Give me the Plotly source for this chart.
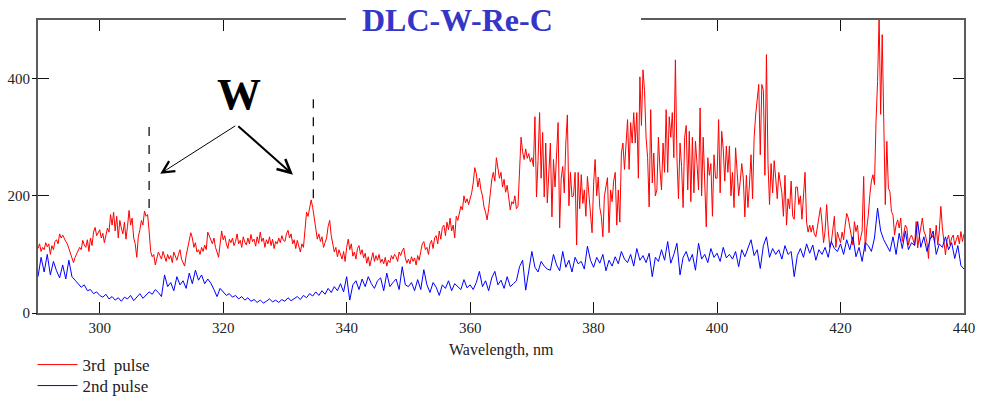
import numpy as np
import plotly.graph_objects as go

# Emission spectra of the DLC-W-Re-C coating, intensity (a.u.) vs wavelength (nm)
WL_START = 290.0
RED_STEP = 0.25   # nm between samples of the 3rd-pulse spectrum
BLUE_STEP = 0.5   # nm between samples of the 2nd-pulse spectrum

# 3rd pulse, one row per 10 nm
red_290 = [110, 118, 105, 112, 108, 120, 113, 118, 100, 115, 108, 122, 125, 118, 135, 128, 133, 126, 122, 118,
           110, 102, 92, 86, 95, 100, 105, 112, 108, 124, 116, 112, 125, 105, 128, 115, 138, 146, 132, 138]
red_300 = [142, 128, 136, 120, 131, 145, 138, 168, 150, 172, 140, 165, 128, 158, 145, 135, 155, 126, 148, 175,
           150, 162, 128, 118, 95, 130, 142, 158, 150, 174, 165, 168, 140, 105, 96, 100, 82, 95, 104, 98]
red_310 = [92, 105, 96, 88, 100, 92, 98, 86, 104, 95, 90, 100, 108, 92, 84, 80, 98, 110, 126, 137,
           128, 112, 120, 104, 108, 100, 112, 105, 116, 108, 138, 130, 124, 118, 128, 112, 104, 95, 118, 140]
red_320 = [125, 132, 118, 110, 126, 120, 128, 115, 122, 135, 118, 124, 112, 130, 121, 116, 128, 118, 134, 122,
           126, 114, 130, 119, 138, 122, 128, 112, 125, 118, 130, 115, 126, 110, 122, 118, 128, 120, 132, 124]
red_330 = [122, 135, 141, 128, 135, 118, 125, 110, 124, 116, 104, 118, 112, 142, 172, 165, 182, 193, 180, 160,
           142, 126, 135, 122, 130, 112, 120, 128, 148, 158, 132, 118, 104, 112, 96, 108, 100, 92, 105, 88]
red_340 = [112, 126, 108, 118, 97, 104, 92, 110, 115, 100, 108, 94, 102, 85, 96, 80, 92, 103, 88, 98,
           90, 100, 86, 92, 84, 95, 80, 90, 86, 98, 92, 100, 96, 88, 104, 98, 106, 111, 94, 85]
red_350 = [92, 84, 96, 88, 94, 82, 98, 90, 105, 118, 122, 108, 112, 100, 118, 124, 110, 128, 132, 118,
           140, 126, 146, 150, 132, 155, 142, 162, 140, 150, 128, 165, 158, 172, 182, 176, 200, 188, 195, 185]
red_360 = [193, 205, 222, 248, 238, 215, 230, 210, 200, 181, 172, 159, 178, 210, 227, 240, 225, 265, 250, 230,
           240, 215, 228, 206, 218, 195, 176, 190, 186, 200, 178, 182, 256, 300, 275, 262, 280, 264, 272, 258]
red_370 = [265, 250, 335, 198, 260, 342, 230, 308, 198, 290, 188, 250, 290, 164, 262, 215, 270, 325, 145, 230,
           250, 205, 290, 338, 183, 240, 198, 200, 240, 116, 240, 178, 236, 187, 210, 165, 233, 200, 175, 137]
red_380 = [220, 262, 200, 232, 180, 165, 130, 200, 215, 231, 137, 210, 190, 225, 240, 150, 210, 155, 273, 290,
           245, 285, 330, 245, 325, 290, 342, 290, 342, 230, 403, 320, 415, 380, 300, 265, 181, 347, 222, 273]
red_390 = [200, 210, 300, 245, 210, 290, 240, 347, 240, 335, 300, 342, 265, 432, 265, 195, 290, 250, 180, 300,
           320, 210, 310, 190, 300, 205, 293, 255, 210, 350, 200, 300, 235, 147, 265, 235, 255, 165, 270, 230]
red_400 = [230, 330, 205, 310, 280, 225, 285, 240, 285, 200, 240, 180, 282, 230, 200, 225, 255, 230, 164, 235,
           180, 220, 270, 195, 299, 338, 360, 390, 270, 390, 380, 235, 441, 255, 185, 255, 205, 260, 230, 195]
red_410 = [240, 220, 205, 165, 235, 150, 195, 178, 225, 165, 160, 215, 215, 185, 200, 160, 200, 240, 155, 138,
           150, 138, 150, 135, 130, 145, 160, 180, 155, 120, 140, 185, 143, 112, 120, 145, 165, 112, 138, 128]
red_420 = [120, 138, 125, 150, 170, 162, 145, 128, 116, 156, 139, 150, 116, 128, 140, 233, 105, 145, 167, 202,
           225, 236, 219, 327, 395, 505, 339, 475, 356, 185, 293, 213, 207, 173, 167, 133, 150, 159, 145, 162]
red_430 = [122, 135, 150, 145, 116, 128, 133, 125, 116, 156, 111, 130, 150, 162, 140, 133, 120, 93, 145, 128,
           133, 120, 150, 116, 140, 182, 145, 120, 99, 125, 133, 116, 128, 133, 116, 125, 133, 118, 139, 122, 135]

# 2nd pulse, one row per 10 nm
blue_290 = [62, 95, 70, 100, 65, 88, 72, 60, 82, 58, 90, 62, 56, 50, 44, 48, 38, 40, 33, 36]
blue_300 = [30, 27, 32, 24, 28, 22, 26, 20, 27, 24, 30, 21, 27, 33, 25, 30, 36, 32, 40, 35]
blue_310 = [28, 65, 45, 52, 38, 62, 48, 55, 42, 68, 50, 73, 56, 65, 50, 58, 51, 40, 28, 42]
blue_320 = [36, 30, 33, 27, 30, 24, 28, 22, 26, 20, 23, 18, 22, 17, 20, 24, 19, 22, 18, 23]
blue_330 = [20, 26, 21, 24, 28, 23, 30, 26, 33, 29, 36, 30, 38, 32, 42, 35, 45, 38, 50, 36]
blue_340 = [62, 22, 48, 55, 40, 58, 45, 62, 50, 42, 55, 60, 38, 68, 45, 52, 58, 40, 79, 48]
blue_350 = [45, 52, 38, 57, 40, 74, 48, 35, 52, 44, 30, 48, 42, 55, 38, 50, 45, 40, 57, 43]
blue_360 = [48, 40, 52, 71, 45, 55, 38, 60, 71, 48, 56, 42, 62, 45, 50, 55, 79, 90, 39, 70]
blue_370 = [105, 78, 70, 88, 80, 75, 73, 100, 82, 72, 105, 78, 90, 70, 95, 84, 88, 75, 114, 90]
blue_380 = [78, 95, 85, 100, 72, 90, 80, 96, 84, 105, 92, 86, 100, 80, 110, 90, 98, 86, 102, 62]
blue_390 = [95, 88, 108, 90, 122, 85, 100, 119, 65, 95, 105, 88, 100, 73, 119, 92, 100, 86, 110, 95]
blue_400 = [102, 88, 112, 94, 100, 92, 105, 79, 108, 96, 112, 125, 98, 108, 76, 115, 130, 95, 110, 100]
blue_410 = [108, 92, 115, 100, 105, 62, 98, 110, 95, 118, 102, 116, 90, 108, 100, 112, 95, 122, 110, 105]
blue_420 = [118, 100, 125, 108, 130, 96, 112, 88, 120, 115, 105, 128, 179, 140, 125, 115, 105, 130, 100, 136]
blue_430 = [110, 140, 108, 120, 115, 156, 112, 130, 105, 125, 140, 100, 118, 112, 130, 108, 120, 93, 115, 81, 75]

x_ticks = [300, 320, 340, 360, 380, 400, 420, 440]
y_ticks = [0, 200, 400]

red_3rd = (red_290 + red_300 + red_310 + red_320 + red_330 + red_340 + red_350 + red_360
           + red_370 + red_380 + red_390 + red_400 + red_410 + red_420 + red_430)
blue_2nd = (blue_290 + blue_300 + blue_310 + blue_320 + blue_330 + blue_340 + blue_350 + blue_360
            + blue_370 + blue_380 + blue_390 + blue_400 + blue_410 + blue_420 + blue_430)

red_wl = WL_START + RED_STEP * np.arange(len(red_3rd))
blue_wl = WL_START + BLUE_STEP * np.arange(len(blue_2nd))

SERIF = "Liberation Serif, Times New Roman, serif"
FRAME = "#5c5c5c"
INK = "#111111"
TEXT = "#222222"

fig = go.Figure()
fig.add_trace(go.Scatter(x=red_wl, y=red_3rd, mode="lines", name="3rd\u00a0 pulse",
                         line=dict(color="#ff0000", width=1), legend="legend"))
fig.add_trace(go.Scatter(x=blue_wl, y=blue_2nd, mode="lines", name="2nd pulse",
                         line=dict(color="#0000ff", width=1), legend="legend2"))
# carrier for the short outer stubs of the left-axis ticks
fig.add_trace(go.Scatter(x=[None], y=[None], yaxis="y2", showlegend=False, hoverinfo="skip"))

axis_common = dict(showgrid=False, zeroline=False, showline=True, linecolor=FRAME, linewidth=2,
                   mirror="ticks", ticks="inside", ticklen=11, tickwidth=1.3, tickcolor=INK,
                   automargin=False, tickfont=dict(family=SERIF, size=15, color=TEXT))

legend_common = dict(x=-0.0059, xref="paper", yref="container", xanchor="left", yanchor="top",
                     bgcolor="rgba(0,0,0,0)", itemwidth=40,
                     font=dict(family=SERIF, size=17, color=TEXT))

fig.update_layout(
    width=982, height=400, autosize=False,
    margin=dict(l=38, r=18, t=20, b=87, autoexpand=False),
    paper_bgcolor="white", plot_bgcolor="white",
    xaxis=dict(range=[290, 440], tickvals=x_ticks, **axis_common),
    yaxis=dict(range=[0, 500], tickvals=y_ticks, ticklabelstandoff=3, **axis_common),
    yaxis2=dict(range=[0, 500], tickvals=y_ticks, overlaying="y", side="left", showgrid=False,
                zeroline=False, showline=False, ticks="outside", ticklen=5, tickwidth=1.3,
                tickcolor=INK, showticklabels=False, automargin=False),
    showlegend=True,
    legend=dict(y=0.1325, **legend_common),
    legend2=dict(y=0.080, **legend_common),
    shapes=[
        # gap in the top frame behind the title
        dict(type="rect", xref="paper", yref="paper", x0=0.3326, x1=0.6512, y0=0.95, y1=1.05,
             fillcolor="white", line=dict(width=0), layer="above"),
        # W line markers
        dict(type="line", xref="x", yref="y", x0=308.0, x1=308.0, y0=179, y1=321,
             line=dict(color=INK, width=1.3, dash="dash")),
        dict(type="line", xref="x", yref="y", x0=334.6, x1=334.6, y0=196, y1=369,
             line=dict(color=INK, width=1.3, dash="dash")),
    ],
    annotations=[
        dict(text="<b>DLC-W-Re-C</b>", xref="paper", yref="paper", x=0.3477, y=1.0,
             xanchor="left", yanchor="middle", showarrow=False,
             font=dict(family=SERIF, size=32, color="#3535c8")),
        dict(text="Wavelength, nm", xref="paper", yref="paper", x=0.5, y=-0.1263,
             xanchor="center", yanchor="middle", showarrow=False,
             font=dict(family=SERIF, size=16, color=TEXT)),
        dict(text="<b>W</b>", xref="x", yref="y", x=322.6, y=373, showarrow=False,
             xanchor="center", yanchor="middle", font=dict(family=SERIF, size=44, color="#000000")),
        dict(text="", xref="x", yref="y", x=309.8, y=237.6, axref="x", ayref="y", ax=322.2, ay=321,
             showarrow=True, arrowhead=5, arrowsize=2.3, arrowwidth=1, arrowcolor="#000000"),
        dict(text="", xref="x", yref="y", x=331.3, y=236, axref="x", ayref="y", ax=322.2, ay=321,
             showarrow=True, arrowhead=5, arrowsize=1.3, arrowwidth=2, arrowcolor="#000000"),
    ],
)

fig.write_html("out.html")
